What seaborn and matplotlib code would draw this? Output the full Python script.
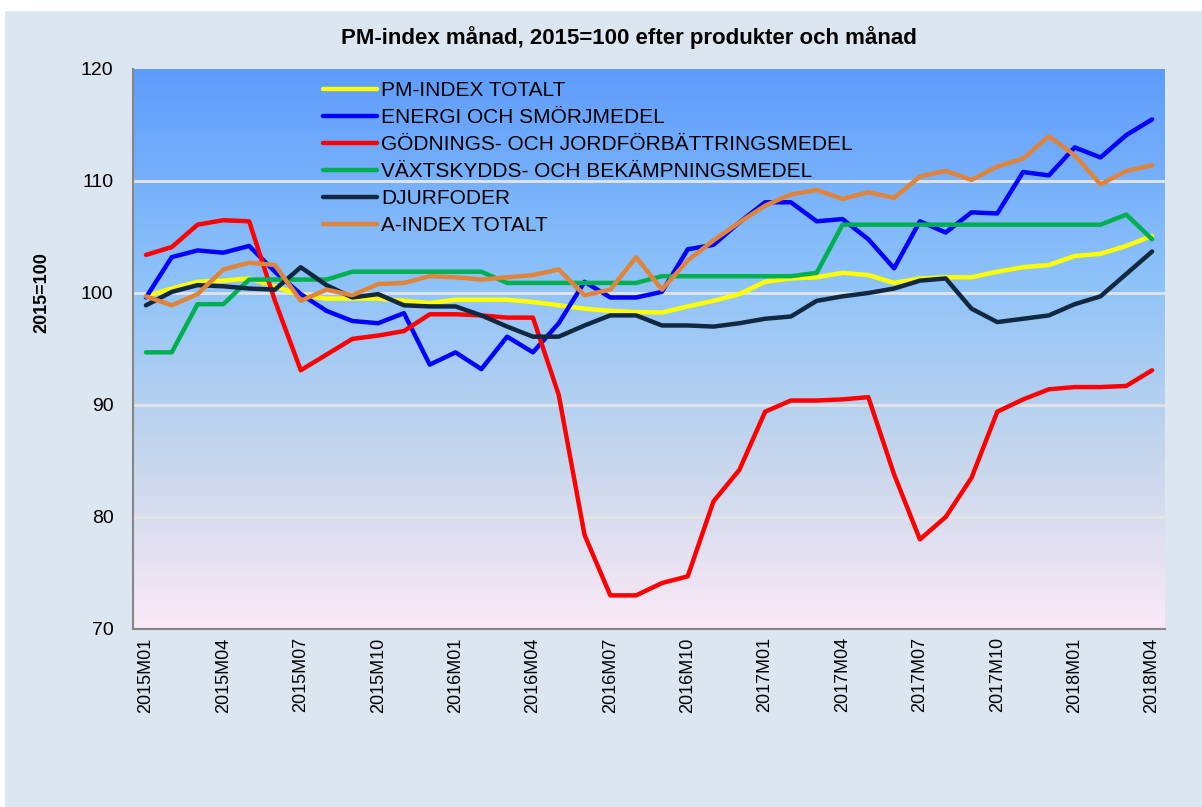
import numpy as np
import pandas as pd
import matplotlib.pyplot as plt
import seaborn as sns
from matplotlib.colors import LinearSegmentedColormap

# ==============================
# PM-index per month, 2015=100
# ==============================

months = [f"{y}M{m:02d}" for y in range(2015, 2019) for m in range(1, 13)][:40]

pm_total = [99.7, 100.4, 101.0, 101.1, 101.3, 100.6, 99.8, 99.5, 99.5, 99.5,
            99.3, 99.1, 99.4, 99.4, 99.4, 99.2, 98.9, 98.6, 98.4, 98.3,
            98.25, 98.8, 99.3, 99.9, 101.0, 101.3, 101.4, 101.8, 101.6, 100.9,
            101.3, 101.4, 101.4, 101.9, 102.3, 102.5, 103.3, 103.5, 104.2, 105.1]
energi = [99.6, 103.2, 103.8, 103.6, 104.2, 101.9, 99.9, 98.4, 97.5, 97.3,
          98.2, 93.6, 94.7, 93.2, 96.1, 94.7, 97.3, 101.0, 99.6, 99.6,
          100.1, 103.9, 104.3, 106.3, 108.1, 108.1, 106.4, 106.6, 104.8, 102.2,
          106.4, 105.4, 107.2, 107.1, 110.8, 110.5, 113.0, 112.1, 114.1, 115.5]
godning = [103.4, 104.1, 106.1, 106.5, 106.4, 99.3, 93.1, 94.5, 95.9, 96.2,
           96.6, 98.1, 98.1, 98.0, 97.8, 97.8, 90.9, 78.4, 73.0, 73.0,
           74.1, 74.7, 81.4, 84.2, 89.4, 90.4, 90.4, 90.5, 90.7, 83.8,
           78.0, 80.0, 83.5, 89.4, 90.5, 91.4, 91.6, 91.6, 91.7, 93.1]
vaxtskydd = [94.7, 94.7, 99.0, 99.0, 101.2, 101.2, 101.2, 101.2, 101.9, 101.9,
             101.9, 101.9, 101.9, 101.9, 100.9, 100.9, 100.9, 100.9, 100.9, 100.9,
             101.5, 101.5, 101.5, 101.5, 101.5, 101.5, 101.8, 106.1, 106.1, 106.1,
             106.1, 106.1, 106.1, 106.1, 106.1, 106.1, 106.1, 106.1, 107.0, 104.8]
djurfoder = [98.9, 100.1, 100.7, 100.6, 100.4, 100.3, 102.3, 100.7, 99.6, 99.9,
             98.9, 98.8, 98.8, 98.0, 97.0, 96.1, 96.1, 97.1, 98.0, 98.0,
             97.1, 97.1, 97.0, 97.3, 97.7, 97.9, 99.3, 99.7, 100.0, 100.4,
             101.1, 101.3, 98.6, 97.4, 97.7, 98.0, 99.0, 99.7, 101.7, 103.7]
a_index = [99.7, 98.9, 99.9, 102.1, 102.7, 102.5, 99.3, 100.3, 99.8, 100.8,
           100.9, 101.5, 101.4, 101.2, 101.4, 101.6, 102.1, 99.8, 100.3, 103.2,
           100.3, 102.9, 104.7, 106.3, 107.8, 108.8, 109.2, 108.4, 109.0, 108.5,
           110.4, 110.9, 110.1, 111.3, 112.0, 114.0, 112.3, 109.7, 110.9, 111.4]

series_names = ["PM-INDEX TOTALT", "ENERGI OCH SMÖRJMEDEL",
                "GÖDNINGS- OCH JORDFÖRBÄTTRINGSMEDEL",
                "VÄXTSKYDDS- OCH BEKÄMPNINGSMEDEL", "DJURFODER", "A-INDEX TOTALT"]
series_values = [pm_total, energi, godning, vaxtskydd, djurfoder, a_index]
colors = ["#ffff00", "#0000ff", "#ff0000", "#00b050", "#112840", "#e0843c"]

df = pd.DataFrame({
    "month": months * len(series_names),
    "pos": list(range(len(months))) * len(series_names),
    "value": [v for vals in series_values for v in vals],
    "serie": [n for n in series_names for _ in months],
})

# style
sns.set_style("white")
plt.rcParams['font.family'] = ['Liberation Sans', 'DejaVu Sans']
plt.rcParams['text.color'] = 'black'
plt.rcParams['axes.labelcolor'] = 'black'
plt.rcParams['xtick.color'] = 'black'
plt.rcParams['ytick.color'] = 'black'

fig = plt.figure(figsize=(12.02, 8.07), dpi=100)
fig.patch.set_facecolor("#dce6f1")
# white strip on top / left like the page margin
fig.add_artist(plt.Rectangle((0, 0.988), 1, 0.012, transform=fig.transFigure,
                             color="white", zorder=-1))
fig.add_artist(plt.Rectangle((0, 0), 0.003, 1, transform=fig.transFigure,
                             color="white", zorder=-1))

ax = fig.add_axes([0.1107, 0.2206, 0.8585, 0.6939])

# gradient background
grad_cmap = LinearSegmentedColormap.from_list(
    "bg", [(0.0, "#fbe9f6"), (0.3, "#c7d7ec"), (0.62, "#8ec3f9"), (1.0, "#5d9cfc")])
grad = np.linspace(0, 1, 256).reshape(-1, 1)
ax.imshow(grad, extent=[-0.5, len(months) - 0.5, 70, 120], origin="lower",
          aspect="auto", cmap=grad_cmap, zorder=0)

for yv in [80, 90, 100, 110]:
    ax.axhline(yv, color="#e4e4e4", lw=2, zorder=1)

sns.lineplot(data=df, x="pos", y="value", hue="serie", hue_order=series_names,
             palette=colors, linewidth=3.2, sort=False, ax=ax, zorder=3)

ax.set_xlim(-0.5, len(months) - 0.5)
ax.set_ylim(70, 120)
ax.set_yticks(range(70, 121, 10))
ax.tick_params(axis="y", labelsize=14, length=0, pad=14)
ax.set_xticks(range(0, len(months), 3))
ax.set_xticklabels(months[::3], rotation=90, fontsize=13)
ax.tick_params(axis="x", length=0, pad=6)
ax.set_xlabel("")
ax.set_ylabel("2015=100", fontsize=13, fontweight="bold")
ax.yaxis.set_label_coords(-0.08, 0.6)

for side in ["top", "right"]:
    ax.spines[side].set_visible(False)
for side in ["left", "bottom"]:
    ax.spines[side].set_color("#868686")
    ax.spines[side].set_linewidth(1.5)

ax.legend(loc="upper left", bbox_to_anchor=(0.172, 1.0), frameon=False,
          fontsize=15, handlelength=2.6, labelspacing=0.38, borderaxespad=0.2,
          handletextpad=0.2)

fig.text(0.523, 0.953, "PM-index månad, 2015=100 efter produkter och månad",
         ha="center", va="center", fontsize=16, fontweight="bold")

plt.savefig("out.png", dpi=100, facecolor=fig.get_facecolor())
